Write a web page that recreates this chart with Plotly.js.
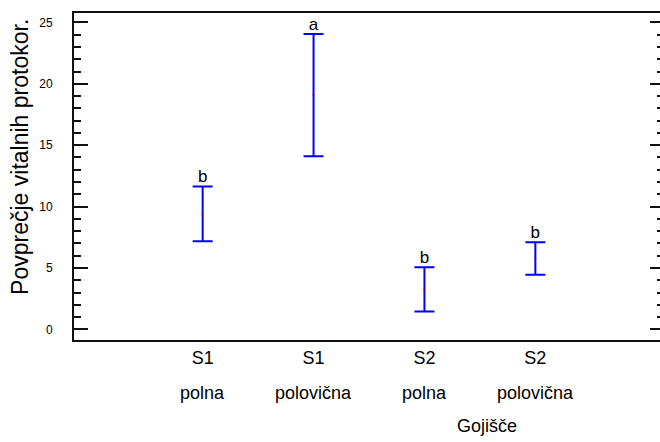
<!DOCTYPE html>
<html>
<head>
<meta charset="utf-8">
<script src="https://cdn.plot.ly/plotly-3.0.1.min.js"></script>
<style>
html, body { margin: 0; padding: 0; overflow: hidden; background: #fff; }
#chart { width: 666px; height: 442px; }
</style>
</head>
<body>
<div id="chart"></div>
<script>
// ---- data ----
const groupLine1 = ['S1', 'S1', 'S2', 'S2'];
const groupLine2 = ['polna', 'polovična', 'polna', 'polovična'];
const means = [9.4, 19.1, 3.25, 5.78];
const upper = [11.63, 24.05, 5.05, 7.1];
const lower = [7.17, 14.1, 1.45, 4.45];
const letters = ['b', 'a', 'b', 'b'];
const yTickVals = [0, 5, 10, 15, 20, 25];
const yTitle = 'Povprečje vitalnih protokor.';
const xTitle = 'Gojišče';

const xIdx = groupLine1.map((_, i) => i);
const errPlus = upper.map((u, i) => u - means[i]);
const errMinus = lower.map((l, i) => means[i] - l);

const FONT = 'Liberation Sans, Arial, sans-serif';

const traces = [
  {
    type: 'scatter', mode: 'markers',
    x: xIdx, y: means,
    marker: { size: 2, color: '#8b0000' },
    error_y: {
      type: 'data', symmetric: false,
      array: errPlus, arrayminus: errMinus,
      color: '#0000ff', thickness: 2, width: 10
    },
    hoverinfo: 'skip', showlegend: false
  },
  {
    type: 'scatter', mode: 'text',
    x: xIdx, y: upper, text: letters,
    textposition: 'top center',
    textfont: { family: FONT, size: 17, color: '#000' },
    hoverinfo: 'skip', showlegend: false
  }
];

const annotations = groupLine2.map((t, i) => ({
  x: i, xref: 'x', xanchor: 'center',
  y: 0, yref: 'paper', yanchor: 'top', yshift: -41,
  text: t, showarrow: false,
  font: { family: FONT, size: 18, color: '#000' }
}));
annotations.push({
  x: 0.70, xref: 'paper', xanchor: 'center',
  y: 0, yref: 'paper', yanchor: 'top', yshift: -74,
  text: xTitle, showarrow: false,
  font: { family: FONT, size: 18, color: '#000' }
});
annotations.push({
  x: 0, xref: 'paper', xanchor: 'center', xshift: -54,
  y: 0.56, yref: 'paper', yanchor: 'middle',
  text: yTitle, textangle: -90, showarrow: false,
  font: { family: FONT, size: 23, color: '#000' }
});

const layout = {
  width: 666, height: 442,
  margin: { l: 74, r: 2, t: 13, b: 102 },
  paper_bgcolor: '#fff', plot_bgcolor: '#fff',
  font: { family: FONT, color: '#000' },
  xaxis: {
    range: [-1.16, 4.16],
    tickvals: xIdx, ticktext: groupLine1,
    ticks: '', showgrid: false, zeroline: false,
    showline: true, linecolor: '#111', linewidth: 2, mirror: true,
    tickfont: { family: FONT, size: 18, color: '#000' }
  },
  yaxis: {
    range: [-0.87, 25.77],
    tickvals: yTickVals,
    ticks: 'inside', ticklen: 14, tickwidth: 2, tickcolor: '#111',
    ticklabelstandoff: 17,
    minor: { dtick: 1, ticks: 'inside', ticklen: 7, tickwidth: 2, tickcolor: '#111', showgrid: false },
    showgrid: false, zeroline: false,
    showline: true, linecolor: '#111', linewidth: 2, mirror: 'ticks',
    tickfont: { family: FONT, size: 12, color: '#000' }
  },
  annotations: annotations
};

Plotly.newPlot('chart', traces, layout, { displayModeBar: false, staticPlot: true });
</script>
</body>
</html>
